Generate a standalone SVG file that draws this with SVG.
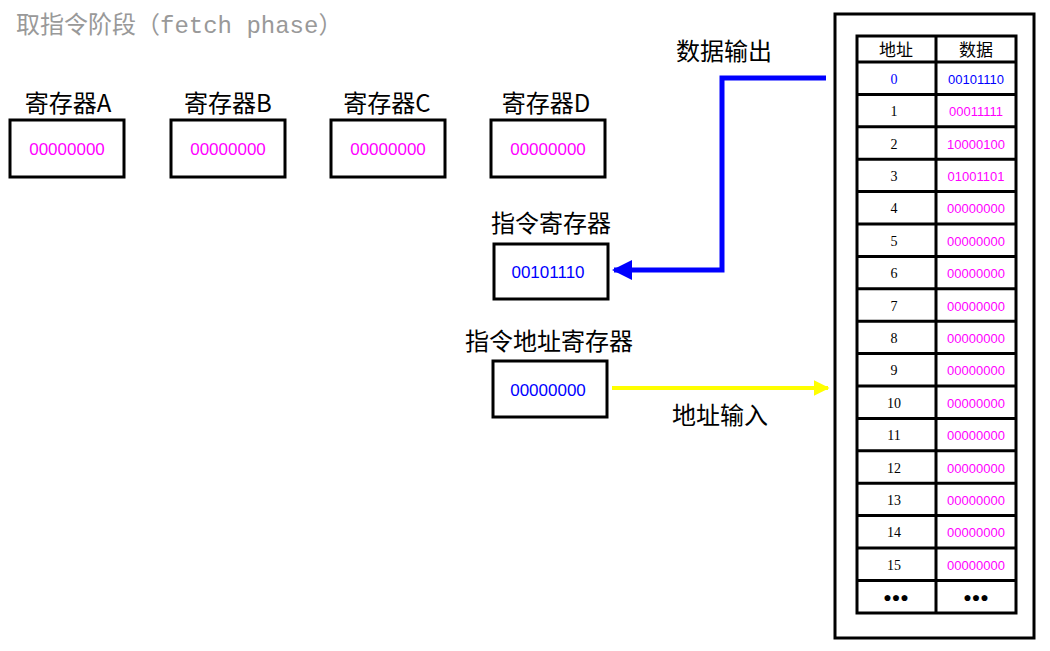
<svg xmlns="http://www.w3.org/2000/svg" width="1050" height="651" viewBox="0 0 1050 651">
<defs>
<style>
text{font-family:"Noto Sans CJK SC","Liberation Sans",sans-serif}
.b{fill:#fff;stroke:#000;stroke-width:3}
.t{stroke:#000;stroke-width:3;fill:none}
.lbl{font-size:24px;fill:#000;text-anchor:middle}
.val{font-size:17px;text-anchor:middle;font-family:"Liberation Sans",sans-serif}
.n{font-size:14px;text-anchor:middle;fill:#000;font-family:"Liberation Serif",serif}
.d{font-size:13px;text-anchor:middle;fill:#f0f;font-family:"Liberation Sans",sans-serif}
</style>
<marker id="ab" viewBox="0 0 10 10" refX="9" refY="5" markerWidth="4" markerHeight="4" orient="auto"><path d="M0,0L10,5L0,10z" fill="#0000ff"/></marker>
<marker id="ay" viewBox="0 0 10 10" refX="9" refY="5" markerWidth="4" markerHeight="4" orient="auto"><path d="M0,0L10,5L0,10z" fill="#ffff00"/></marker>
</defs>
<text x="16" y="33" font-size="24" fill="#999">取指令阶段（<tspan font-family="Liberation Mono,monospace">fetch phase</tspan>）</text>
<g id="regA"><text class="lbl" x="68" y="112">寄存器A</text><rect class="b" x="10" y="120" width="114" height="57"/><text class="val" x="67" y="155" fill="#f0f">00000000</text></g>
<g id="regB"><text class="lbl" x="228" y="112">寄存器B</text><rect class="b" x="171" y="120" width="114" height="57"/><text class="val" x="228" y="155" fill="#f0f">00000000</text></g>
<g id="regC"><text class="lbl" x="387" y="112">寄存器C</text><rect class="b" x="331" y="120" width="114" height="57"/><text class="val" x="388" y="155" fill="#f0f">00000000</text></g>
<g id="regD"><text class="lbl" x="546" y="112">寄存器D</text><rect class="b" x="491" y="120" width="114" height="57"/><text class="val" x="548" y="155" fill="#f0f">00000000</text></g>
<g id="ir"><text class="lbl" x="551" y="232">指令寄存器</text><rect class="b" x="494" y="244" width="114" height="55"/><text class="val" x="548" y="278" fill="#00f">00101110</text></g>
<g id="iar"><text class="lbl" x="549" y="350">指令地址寄存器</text><rect class="b" x="493" y="361" width="114" height="56"/><text class="val" x="548" y="396" fill="#00f">00000000</text></g>
<g id="connectors">
<polyline points="826,78 722,78 722,270 614,270" fill="none" stroke="#0000ff" stroke-width="5" marker-end="url(#ab)"/>
<line x1="612" y1="388" x2="828" y2="388" stroke="#ffff00" stroke-width="4" marker-end="url(#ay)"/>
<text class="lbl" x="724" y="60">数据输出</text>
<text class="lbl" x="720" y="424">地址输入</text>
</g>
<g id="memory">
<rect class="b" x="835" y="14" width="199" height="624"/>
<rect class="t" x="857" y="36" width="159" height="577"/>
<line class="t" x1="936" y1="36" x2="936" y2="613"/>
<text x="896" y="56" font-size="17" text-anchor="middle">地址</text>
<text x="976" y="56" font-size="17" text-anchor="middle">数据</text>
<g class="t">
<line x1="857" y1="62" x2="1016" y2="62"/><line x1="857" y1="94.4" x2="1016" y2="94.4"/><line x1="857" y1="126.8" x2="1016" y2="126.8"/><line x1="857" y1="159.2" x2="1016" y2="159.2"/><line x1="857" y1="191.6" x2="1016" y2="191.6"/><line x1="857" y1="224" x2="1016" y2="224"/><line x1="857" y1="256.4" x2="1016" y2="256.4"/><line x1="857" y1="288.8" x2="1016" y2="288.8"/><line x1="857" y1="321.2" x2="1016" y2="321.2"/><line x1="857" y1="353.6" x2="1016" y2="353.6"/><line x1="857" y1="386" x2="1016" y2="386"/><line x1="857" y1="418.4" x2="1016" y2="418.4"/><line x1="857" y1="450.8" x2="1016" y2="450.8"/><line x1="857" y1="483.2" x2="1016" y2="483.2"/><line x1="857" y1="515.6" x2="1016" y2="515.6"/><line x1="857" y1="548" x2="1016" y2="548"/><line x1="857" y1="580.4" x2="1016" y2="580.4"/>
</g>
<text class="n" x="894" y="84" fill="#00f" style="fill:#00f">0</text><text class="d" x="976" y="84" style="fill:#00f">00101110</text>
<text class="n" x="894" y="116">1</text><text class="d" x="976" y="116">00011111</text>
<text class="n" x="894" y="149">2</text><text class="d" x="976" y="149">10000100</text>
<text class="n" x="894" y="181">3</text><text class="d" x="976" y="181">01001101</text>
<text class="n" x="894" y="213">4</text><text class="d" x="976" y="213">00000000</text>
<text class="n" x="894" y="246">5</text><text class="d" x="976" y="246">00000000</text>
<text class="n" x="894" y="278">6</text><text class="d" x="976" y="278">00000000</text>
<text class="n" x="894" y="311">7</text><text class="d" x="976" y="311">00000000</text>
<text class="n" x="894" y="343">8</text><text class="d" x="976" y="343">00000000</text>
<text class="n" x="894" y="375">9</text><text class="d" x="976" y="375">00000000</text>
<text class="n" x="894" y="408">10</text><text class="d" x="976" y="408">00000000</text>
<text class="n" x="894" y="440">11</text><text class="d" x="976" y="440">00000000</text>
<text class="n" x="894" y="473">12</text><text class="d" x="976" y="473">00000000</text>
<text class="n" x="894" y="505">13</text><text class="d" x="976" y="505">00000000</text>
<text class="n" x="894" y="537">14</text><text class="d" x="976" y="537">00000000</text>
<text class="n" x="894" y="570">15</text><text class="d" x="976" y="570">00000000</text>
<text class="n" x="896" y="602" font-weight="bold">●●●</text><text class="n" x="976" y="602" font-weight="bold">●●●</text>
</g>
</svg>
